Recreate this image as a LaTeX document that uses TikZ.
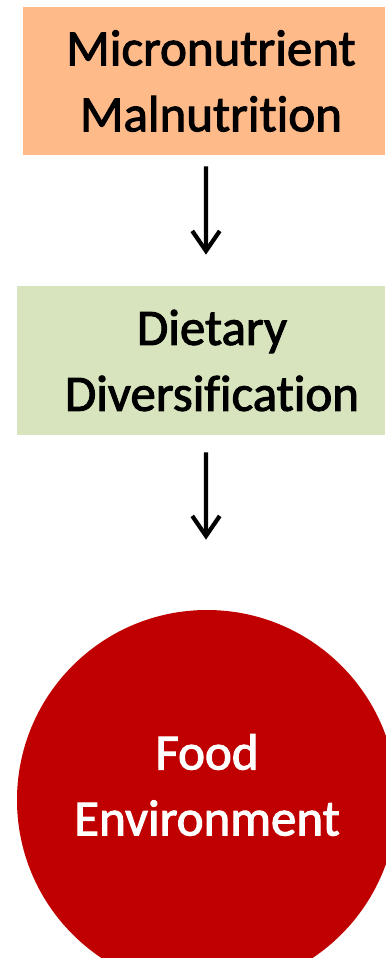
\documentclass[tikz,border=0pt]{standalone}
\usepackage{fontspec}
\setmainfont[Ligatures=NoCommon, FakeBold=2]{Carlito}
\usetikzlibrary{arrows.meta}
\definecolor{peach}{HTML}{FFBA8A}
\definecolor{sage}{HTML}{D8E4BD}
\definecolor{deepred}{HTML}{C00000}
\begin{document}
\begin{tikzpicture}[font=\fontsize{29}{37.5}\selectfont,
    every node/.style={align=center},
    box/.style={minimum height=2.96cm, inner sep=0pt},
    flow/.style={line width=2.4pt, -{Straight Barb[length=0.4cm, width=0.55cm, line width=2.4pt]}}]
  \useasboundingbox (0,0) rectangle (7.7,-19.16);

  % Top box
  \node[box, fill=peach, minimum width=7.24cm] (mal) at (4.08,-1.62) {};
  \node (maltext) at ([xshift=0.14cm]mal.center) {Micronutrient\\Malnutrition};

  % Middle box
  \node[box, fill=sage, minimum width=7.36cm, minimum height=2.98cm] (diet) at (4.02,-7.21) {};
  \node (diettext) at ([xshift=0.22cm]diet.center) {Dietary\\Diversification};

  % Red circle (runs off the page)
  \node[circle, fill=deepred, minimum size=7.6cm, inner sep=0pt] (env) at (4.14,-16.0) {};
  \node[text=white] (envtext) at ([yshift=0.3cm]env.center) {Food\\Environment};

  % Arrows
  \draw[flow, shorten <=0.22cm, shorten >=0.62cm] ([xshift=0.04cm]mal.south) -- ([xshift=0.1cm]diet.north);
  \draw[flow, shorten <=0.34cm, shorten >=1.4cm] ([xshift=0.1cm]diet.south) -- ([xshift=-0.02cm]env.north);
\end{tikzpicture}
\end{document}
